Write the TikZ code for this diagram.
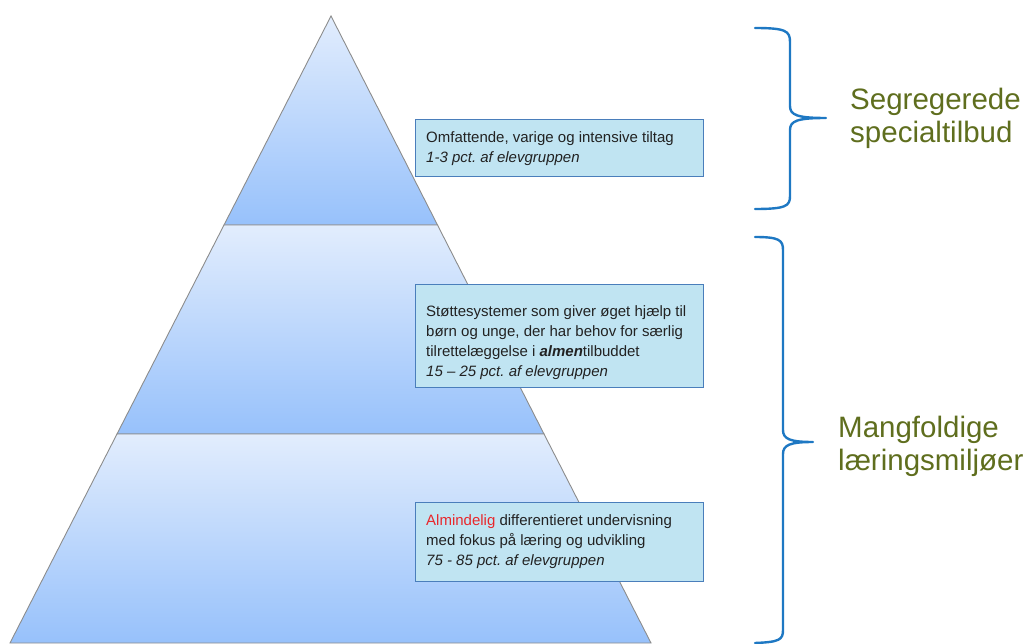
\documentclass[tikz,border=0pt]{standalone}
\usepackage{fontspec}
\setmainfont{Liberation Sans}
\usetikzlibrary{calc}
\frenchspacing
\definecolor{tiertop}{RGB}{226,237,253}
\definecolor{tierbot}{RGB}{151,193,251}
\definecolor{tierline}{RGB}{140,140,140}
\definecolor{boxfill}{RGB}{192,228,242}
\definecolor{boxline}{RGB}{74,126,187}
\definecolor{bracecol}{RGB}{30,120,195}
\definecolor{olive}{RGB}{95,110,30}
\definecolor{txtcol}{RGB}{34,34,34}
\definecolor{redtxt}{RGB}{232,40,44}
\begin{document}
\frenchspacing
\begin{tikzpicture}[x=1pt,y=-1pt,
  tier/.style={draw=tierline,line width=0.9pt,top color=tiertop,bottom color=tierbot},
  infobox/.style={draw=boxline,line width=1.1pt,fill=boxfill,anchor=north west,inner sep=0pt},
  boxtext/.style={anchor=base west,inner sep=0pt,text=txtcol,font=\fontsize{15}{20}\selectfont\frenchspacing},
  bracestyle/.style={draw=bracecol,line width=2.4pt,line cap=round,line join=round},
  sidelabel/.style={anchor=base west,inner sep=0pt,text=olive,font=\fontsize{29.5}{33}\selectfont}]
\useasboundingbox (0,0) rectangle (1027,644);
% pyramid tiers
\coordinate (apex) at (331,16);
\coordinate (l1) at (224,225);
\coordinate (r1) at (437.5,225);
\coordinate (l2) at (117,434);
\coordinate (r2) at (544,434);
\coordinate (l3) at (10,643);
\coordinate (r3) at (651,643);
\path[tier] (apex) -- (r1) -- (l1) -- cycle;
\path[tier] (l1) -- (r1) -- (r2) -- (l2) -- cycle;
\path[tier] (l2) -- (r2) -- (r3) -- (l3) -- cycle;
% boxes
\node[infobox,minimum width=288,minimum height=57] (box1) at (415,119) {};
\node[infobox,minimum width=288,minimum height=103] (box2) at (415,284) {};
\node[infobox,minimum width=288,minimum height=79] (box3) at (415,502) {};
\node[boxtext] (text1) at (426,143) {\begin{tabular}[t]{@{}l@{}}Omfattende, varige og intensive tiltag\\ \textit{1-3 pct. af elevgruppen}\end{tabular}};
\node[boxtext] (text2) at (426,316) {\begin{tabular}[t]{@{}l@{}}Støttesystemer som giver øget hjælp til\\ børn og unge, der har behov for særlig\\ tilrettelæggelse i \textbf{\textit{almen}}tilbuddet\\ \textit{15 – 25 pct. af elevgruppen}\end{tabular}};
\node[boxtext] (text3) at (426,525) {\begin{tabular}[t]{@{}l@{}}\textcolor{redtxt}{Almindelig} differentieret undervisning\\ med fokus på læring og udvikling\\ \textit{75 - 85 pct. af elevgruppen}\end{tabular}};
% braces
\path[bracestyle] (755,28) .. controls (786,28) and (790,31) .. (790,42) -- (790,106)
  .. controls (790,115) and (797,118) .. (826,118)
  .. controls (797,118) and (790,121) .. (790,130) -- (790,196)
  .. controls (790,206) and (786,209) .. (755,209);
\path[bracestyle] (755,237) .. controls (779,237) and (783,240) .. (783,250) -- (783,430)
  .. controls (783,439) and (790,442) .. (813,442)
  .. controls (790,442) and (783,445) .. (783,454) -- (783,630)
  .. controls (783,640) and (779,642) .. (755,643);
% labels
\node[sidelabel] (lab1) at (850,110) {\begin{tabular}[t]{@{}l@{}}Segregerede\\ specialtilbud\end{tabular}};
\node[sidelabel] (lab2) at (838,437) {\begin{tabular}[t]{@{}l@{}}Mangfoldige\\ læringsmiljøer\end{tabular}};
\end{tikzpicture}
\end{document}
